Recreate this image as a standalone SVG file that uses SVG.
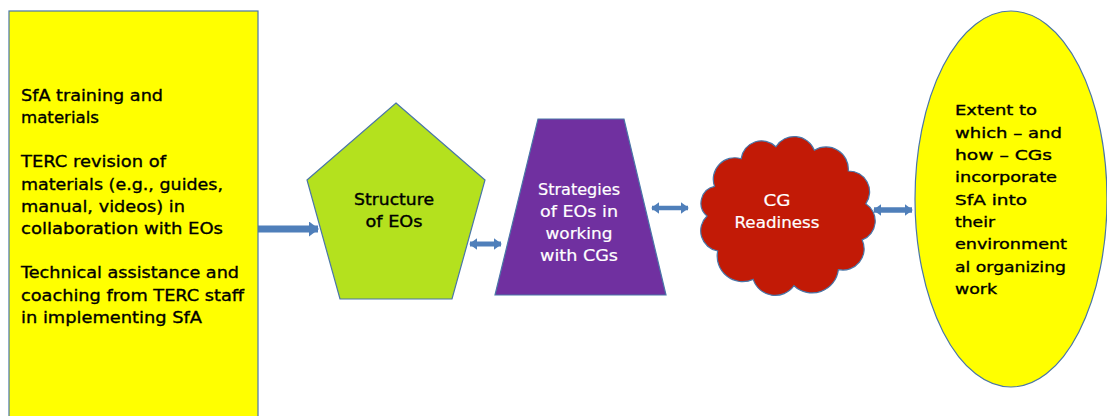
<svg xmlns="http://www.w3.org/2000/svg" width="1107" height="416" viewBox="0 0 1107 416">
  <style>
    .lbl { font-family: "DejaVu Sans", "Liberation Sans", sans-serif; }
    .dark { fill: #000000; stroke: #000000; stroke-width: 0.35; }
    .light { fill: #ffffff; stroke: #ffffff; stroke-width: 0.2; }
    .box { font-size: 16.5px; }
    .mid { font-size: 15px; text-anchor: middle; }
    .oval { font-size: 14.5px; }
    .shape { stroke: #4a76a8; stroke-width: 1.2; }
  </style>
  <defs>
    <marker id="head" viewBox="0 0 10 10" refX="9" refY="5" markerWidth="8" markerHeight="12" markerUnits="userSpaceOnUse" orient="auto-start-reverse" preserveAspectRatio="none">
      <path d="M0,0 L10,5 L0,10 Z" fill="#4f7fba"/>
    </marker>
    <marker id="headBig" viewBox="0 0 10 10" refX="9" refY="5" markerWidth="10" markerHeight="15" markerUnits="userSpaceOnUse" orient="auto" preserveAspectRatio="none">
      <path d="M0,0 L10,5 L0,10 Z" fill="#4f7fba"/>
    </marker>
  </defs>
  <rect width="1107" height="416" fill="#ffffff"/>

  <!-- connectors sit underneath the shapes -->
  <g id="connectors" fill="none" stroke="#4f7fba">
    <line x1="258" y1="229" x2="318" y2="229" stroke-width="7" marker-end="url(#headBig)"/>
    <line x1="470" y1="244" x2="501" y2="244" stroke-width="5" marker-start="url(#head)" marker-end="url(#head)"/>
    <line x1="652" y1="208" x2="688" y2="208" stroke-width="4.5" marker-start="url(#head)" marker-end="url(#head)"/>
    <line x1="874" y1="210" x2="912" y2="210" stroke-width="5.5" marker-start="url(#head)" marker-end="url(#head)"/>
  </g>

  <g id="inputs">
    <rect class="shape" x="9" y="11" width="249" height="420" fill="#ffff00"/>
    <g class="lbl dark box">
      <text x="21" y="101" textLength="142" lengthAdjust="spacingAndGlyphs">SfA training and</text>
      <text x="21" y="123" textLength="78" lengthAdjust="spacingAndGlyphs">materials</text>
      <text x="21" y="167" textLength="145" lengthAdjust="spacingAndGlyphs">TERC revision of</text>
      <text x="21" y="189.5" textLength="202" lengthAdjust="spacingAndGlyphs">materials (e.g., guides,</text>
      <text x="21" y="212" textLength="164" lengthAdjust="spacingAndGlyphs">manual, videos) in</text>
      <text x="21" y="234" textLength="202" lengthAdjust="spacingAndGlyphs">collaboration with EOs</text>
      <text x="21" y="278" textLength="218" lengthAdjust="spacingAndGlyphs">Technical assistance and</text>
      <text x="21" y="300.5" textLength="223" lengthAdjust="spacingAndGlyphs">coaching from TERC staff</text>
      <text x="21" y="323" textLength="181" lengthAdjust="spacingAndGlyphs">in implementing SfA</text>
    </g>
  </g>

  <g id="structure">
    <polygon class="shape" points="396,103 485,180 452,299 340,299 307,180" fill="#b4e11e"/>
    <g class="lbl dark mid">
      <text x="394" y="205" textLength="80" lengthAdjust="spacingAndGlyphs">Structure</text>
      <text x="394" y="227" textLength="57" lengthAdjust="spacingAndGlyphs">of EOs</text>
    </g>
  </g>

  <g id="strategies">
    <polygon class="shape" points="538,119 624,119 666,295 495,295" fill="#7030a0" stroke="#5e3a88"/>
    <g class="lbl light mid">
      <text x="579" y="195" textLength="82" lengthAdjust="spacingAndGlyphs">Strategies</text>
      <text x="579" y="217" textLength="78" lengthAdjust="spacingAndGlyphs">of EOs in</text>
      <text x="579" y="239" textLength="67" lengthAdjust="spacingAndGlyphs">working</text>
      <text x="579" y="260.5" textLength="78" lengthAdjust="spacingAndGlyphs">with CGs</text>
    </g>
  </g>

  <g id="readiness">
    <path class="shape" fill="#c21a06" d="M707,216
      A17,17 0 0 1 714.5,186.4
      A21.5,21.5 0 0 1 741.1,158.7
      A20.6,20.6 0 0 1 775.9,146.7
      A21.7,21.7 0 0 1 814.4,150.2
      A22.3,22.3 0 0 1 848.3,171
      A20.8,20.8 0 0 1 865.8,203.8
      A20.3,20.3 0 0 1 862.2,239.9
      A21.3,21.3 0 0 1 838.4,269.6
      A26.4,26.4 0 0 1 794,285.7
      A23.1,23.1 0 0 1 753.2,279.4
      A25.5,25.5 0 0 1 717.7,251
      A20.5,20.5 0 0 1 707,216 Z"/>
    <g class="lbl light mid">
      <text x="777" y="205.5" textLength="27" lengthAdjust="spacingAndGlyphs">CG</text>
      <text x="777" y="228" textLength="85" lengthAdjust="spacingAndGlyphs">Readiness</text>
    </g>
  </g>

  <g id="outcome">
    <ellipse class="shape" cx="1011" cy="199" rx="96" ry="188" fill="#ffff00"/>
    <g class="lbl dark oval">
      <text x="955" y="115" textLength="82" lengthAdjust="spacingAndGlyphs">Extent to</text>
      <text x="955" y="137.5" textLength="107" lengthAdjust="spacingAndGlyphs">which – and</text>
      <text x="955" y="160" textLength="97" lengthAdjust="spacingAndGlyphs">how – CGs</text>
      <text x="955" y="182" textLength="102" lengthAdjust="spacingAndGlyphs">incorporate</text>
      <text x="955" y="204.5" textLength="72" lengthAdjust="spacingAndGlyphs">SfA into</text>
      <text x="955" y="227" textLength="40" lengthAdjust="spacingAndGlyphs">their</text>
      <text x="955" y="249" textLength="112" lengthAdjust="spacingAndGlyphs">environment</text>
      <text x="955" y="271.5" textLength="111" lengthAdjust="spacingAndGlyphs">al organizing</text>
      <text x="955" y="294" textLength="42" lengthAdjust="spacingAndGlyphs">work</text>
    </g>
  </g>
</svg>
